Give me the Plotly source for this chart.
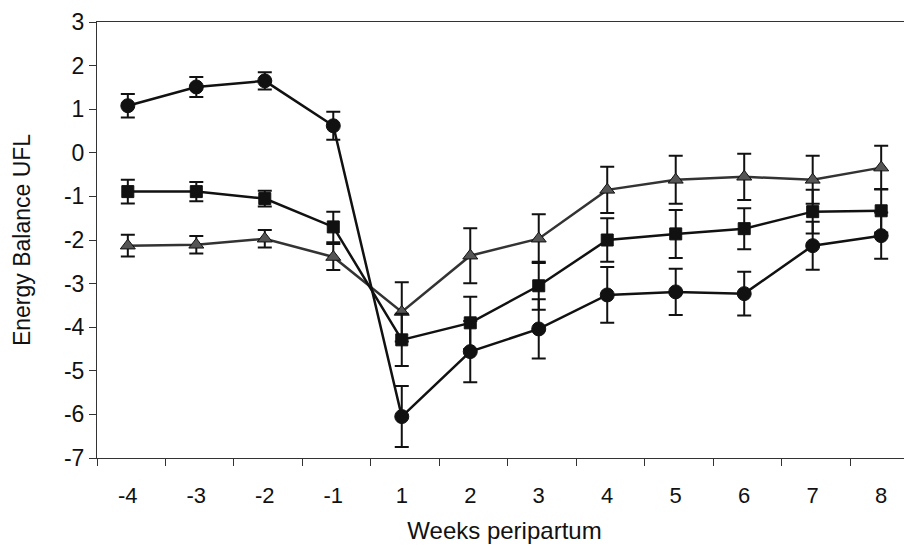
import plotly.graph_objects as go

weeks = ["-4", "-3", "-2", "-1", "1", "2", "3", "4", "5", "6", "7", "8"]
circle_vals = [1.08, 1.51, 1.65, 0.62, -6.05, -4.56, -4.04, -3.26, -3.19, -3.23, -2.13, -1.90]
circle_err = [0.27, 0.23, 0.20, 0.32, 0.70, 0.70, 0.68, 0.64, 0.53, 0.50, 0.55, 0.53]
square_vals = [-0.89, -0.89, -1.05, -1.70, -4.29, -3.90, -3.05, -2.00, -1.86, -1.74, -1.35, -1.33]
square_err = [0.27, 0.22, 0.18, 0.35, 0.60, 0.60, 0.55, 0.50, 0.55, 0.47, 0.50, 0.50]
tri_vals = [-2.13, -2.11, -1.97, -2.39, -3.65, -2.36, -1.97, -0.85, -0.62, -0.55, -0.62, -0.34]
tri_err = [0.25, 0.20, 0.20, 0.30, 0.68, 0.63, 0.56, 0.53, 0.55, 0.53, 0.55, 0.50]
y_ticks = [-7, -6, -5, -4, -3, -2, -1, 0, 1, 2, 3]
y_labels = ["-7", "-6", "-5", "-4", "-3", "-2", "-1", "0", "1", "2", "3"]

xpos = list(range(len(weeks)))
font = "Liberation Sans, Arial, sans-serif"

fig = go.Figure()

def add(vals, err, symbol, color, lcolor, size):
    fig.add_trace(go.Scatter(
        x=xpos, y=vals, mode="lines+markers",
        line=dict(color=lcolor, width=2.5),
        marker=dict(symbol=symbol, size=size, color=color,
                    line=dict(color="#111", width=1)),
        error_y=dict(type="data", array=err, visible=True,
                     color="#111", thickness=2, width=7),
        showlegend=False,
    ))

add(tri_vals, tri_err, "triangle-up", "#555", "#333", 13)
add(square_vals, square_err, "square", "#111", "#111", 12)
add(circle_vals, circle_err, "circle", "#111", "#111", 14)

fig.update_layout(
    width=912, height=546,
    margin=dict(l=89, r=8, t=14, b=96),
    paper_bgcolor="white", plot_bgcolor="white",
    font=dict(family=font, color="#111", size=22),
    xaxis=dict(
        automargin=False,
        range=[-0.45, 11.45],
        tickmode="array", tickvals=xpos, ticktext=weeks,
        ticks="", ticklabelstandoff=18,
        tickfont=dict(size=22),
        showline=True, linecolor="#333", linewidth=1, mirror=True,
        showgrid=False, zeroline=False,
        minor=dict(tickmode="array",
                   tickvals=[i - 0.45 for i in range(13)],
                   ticks="outside", ticklen=7, tickcolor="#333", tickwidth=1,
                   showgrid=False),
        title=dict(text="Weeks peripartum", font=dict(size=24), standoff=14),
    ),
    yaxis=dict(
        automargin=False,
        range=[-7, 3],
        tickmode="array", tickvals=y_ticks, ticktext=y_labels,
        ticks="outside", ticklen=7, tickcolor="#333",
        tickfont=dict(size=23),
        showline=True, linecolor="#333", linewidth=1,
        showgrid=False, zeroline=False,
        title=dict(text="Energy Balance UFL", font=dict(size=23), standoff=26),
    ),
)

fig.write_html("out.html")
